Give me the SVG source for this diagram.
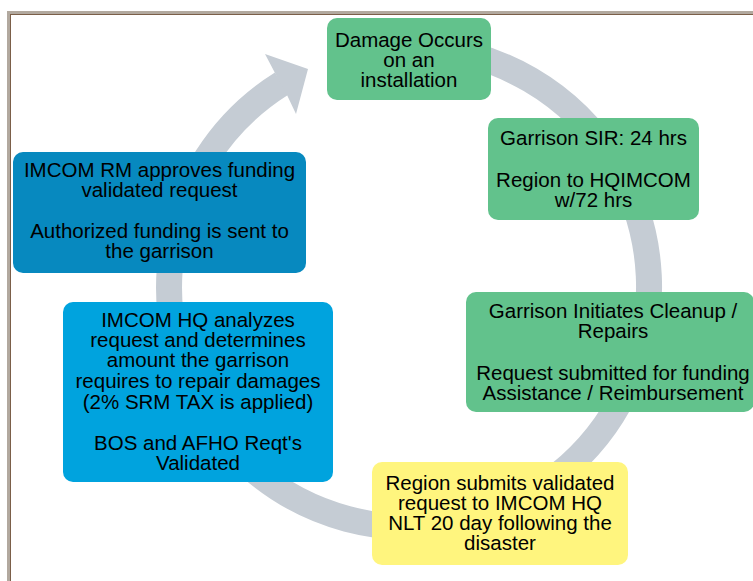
<svg xmlns="http://www.w3.org/2000/svg" width="753" height="581" viewBox="0 0 753 581">
  <style>
    .box text, text { font-family: "Liberation Sans", Arial, sans-serif; font-size: 20.5px; fill: #000; text-anchor: middle; }
    .green { fill: #62c28c; }
    .dblue { fill: #0789bf; }
    .lblue { fill: #00a3de; }
    .yellow { fill: #fff57e; }
    .ring { fill: none; stroke: #c5ccd4; stroke-width: 26; }
  </style>
  <rect x="0" y="0" width="753" height="581" fill="#ffffff"/>
  <g id="frame">
    <rect x="8.5" y="12.5" width="800" height="650" fill="none" stroke="#b2a99f" stroke-width="3"/>
    <rect x="10.5" y="14.5" width="800" height="650" fill="none" stroke="#7b5f49" stroke-width="1"/>
  </g>
  <g id="connectors">
    <path class="ring" d="M429.9,47.9 A240,240 0 1 1 281.8,83.5"/>
    <polygon points="265,54 308,69 296,114 287,95 275,73" fill="#c5ccd4"/>
  </g>
  <g id="damage" class="box">
    <rect class="green" x="327" y="18" width="164" height="82" rx="10"/>
    <text><tspan x="409" y="47">Damage Occurs</tspan><tspan x="409" y="67">on an</tspan><tspan x="409" y="87">installation</tspan></text>
  </g>
  <g id="garrison-sir" class="box">
    <rect class="green" x="488" y="118" width="211" height="102" rx="10"/>
    <text><tspan x="593.5" y="145">Garrison SIR: 24 hrs</tspan><tspan x="593.5" y="187">Region to HQIMCOM</tspan><tspan x="593.5" y="207">w/72 hrs</tspan></text>
  </g>
  <g id="garrison-initiates" class="box">
    <rect class="green" x="466" y="292" width="288" height="120" rx="10"/>
    <text><tspan x="613" y="318">Garrison Initiates Cleanup /</tspan><tspan x="613" y="338">Repairs</tspan><tspan x="613" y="380">Request submitted for funding</tspan><tspan x="613" y="400">Assistance / Reimbursement</tspan></text>
  </g>
  <g id="region-submits" class="box">
    <rect class="yellow" x="372" y="462" width="256" height="103" rx="10"/>
    <text><tspan x="500" y="490">Region submits validated</tspan><tspan x="500" y="510">request to IMCOM HQ</tspan><tspan x="500" y="530">NLT 20 day following the</tspan><tspan x="500" y="550">disaster</tspan></text>
  </g>
  <g id="imcom-hq" class="box">
    <rect class="lblue" x="63" y="302" width="270" height="180" rx="10"/>
    <text><tspan x="198" y="327">IMCOM HQ analyzes</tspan><tspan x="198" y="347">request and determines</tspan><tspan x="198" y="367">amount the garrison</tspan><tspan x="198" y="388">requires to repair damages</tspan><tspan x="198" y="409">(2% SRM TAX is applied)</tspan><tspan x="198" y="450">BOS and AFHO Reqt's</tspan><tspan x="198" y="470">Validated</tspan></text>
  </g>
  <g id="imcom-rm" class="box">
    <rect class="dblue" x="13" y="152" width="293" height="121" rx="10"/>
    <text><tspan x="159.5" y="177">IMCOM RM approves funding</tspan><tspan x="159.5" y="197">validated request</tspan><tspan x="159.5" y="238">Authorized funding is sent to</tspan><tspan x="159.5" y="258">the garrison</tspan></text>
  </g>
</svg>
